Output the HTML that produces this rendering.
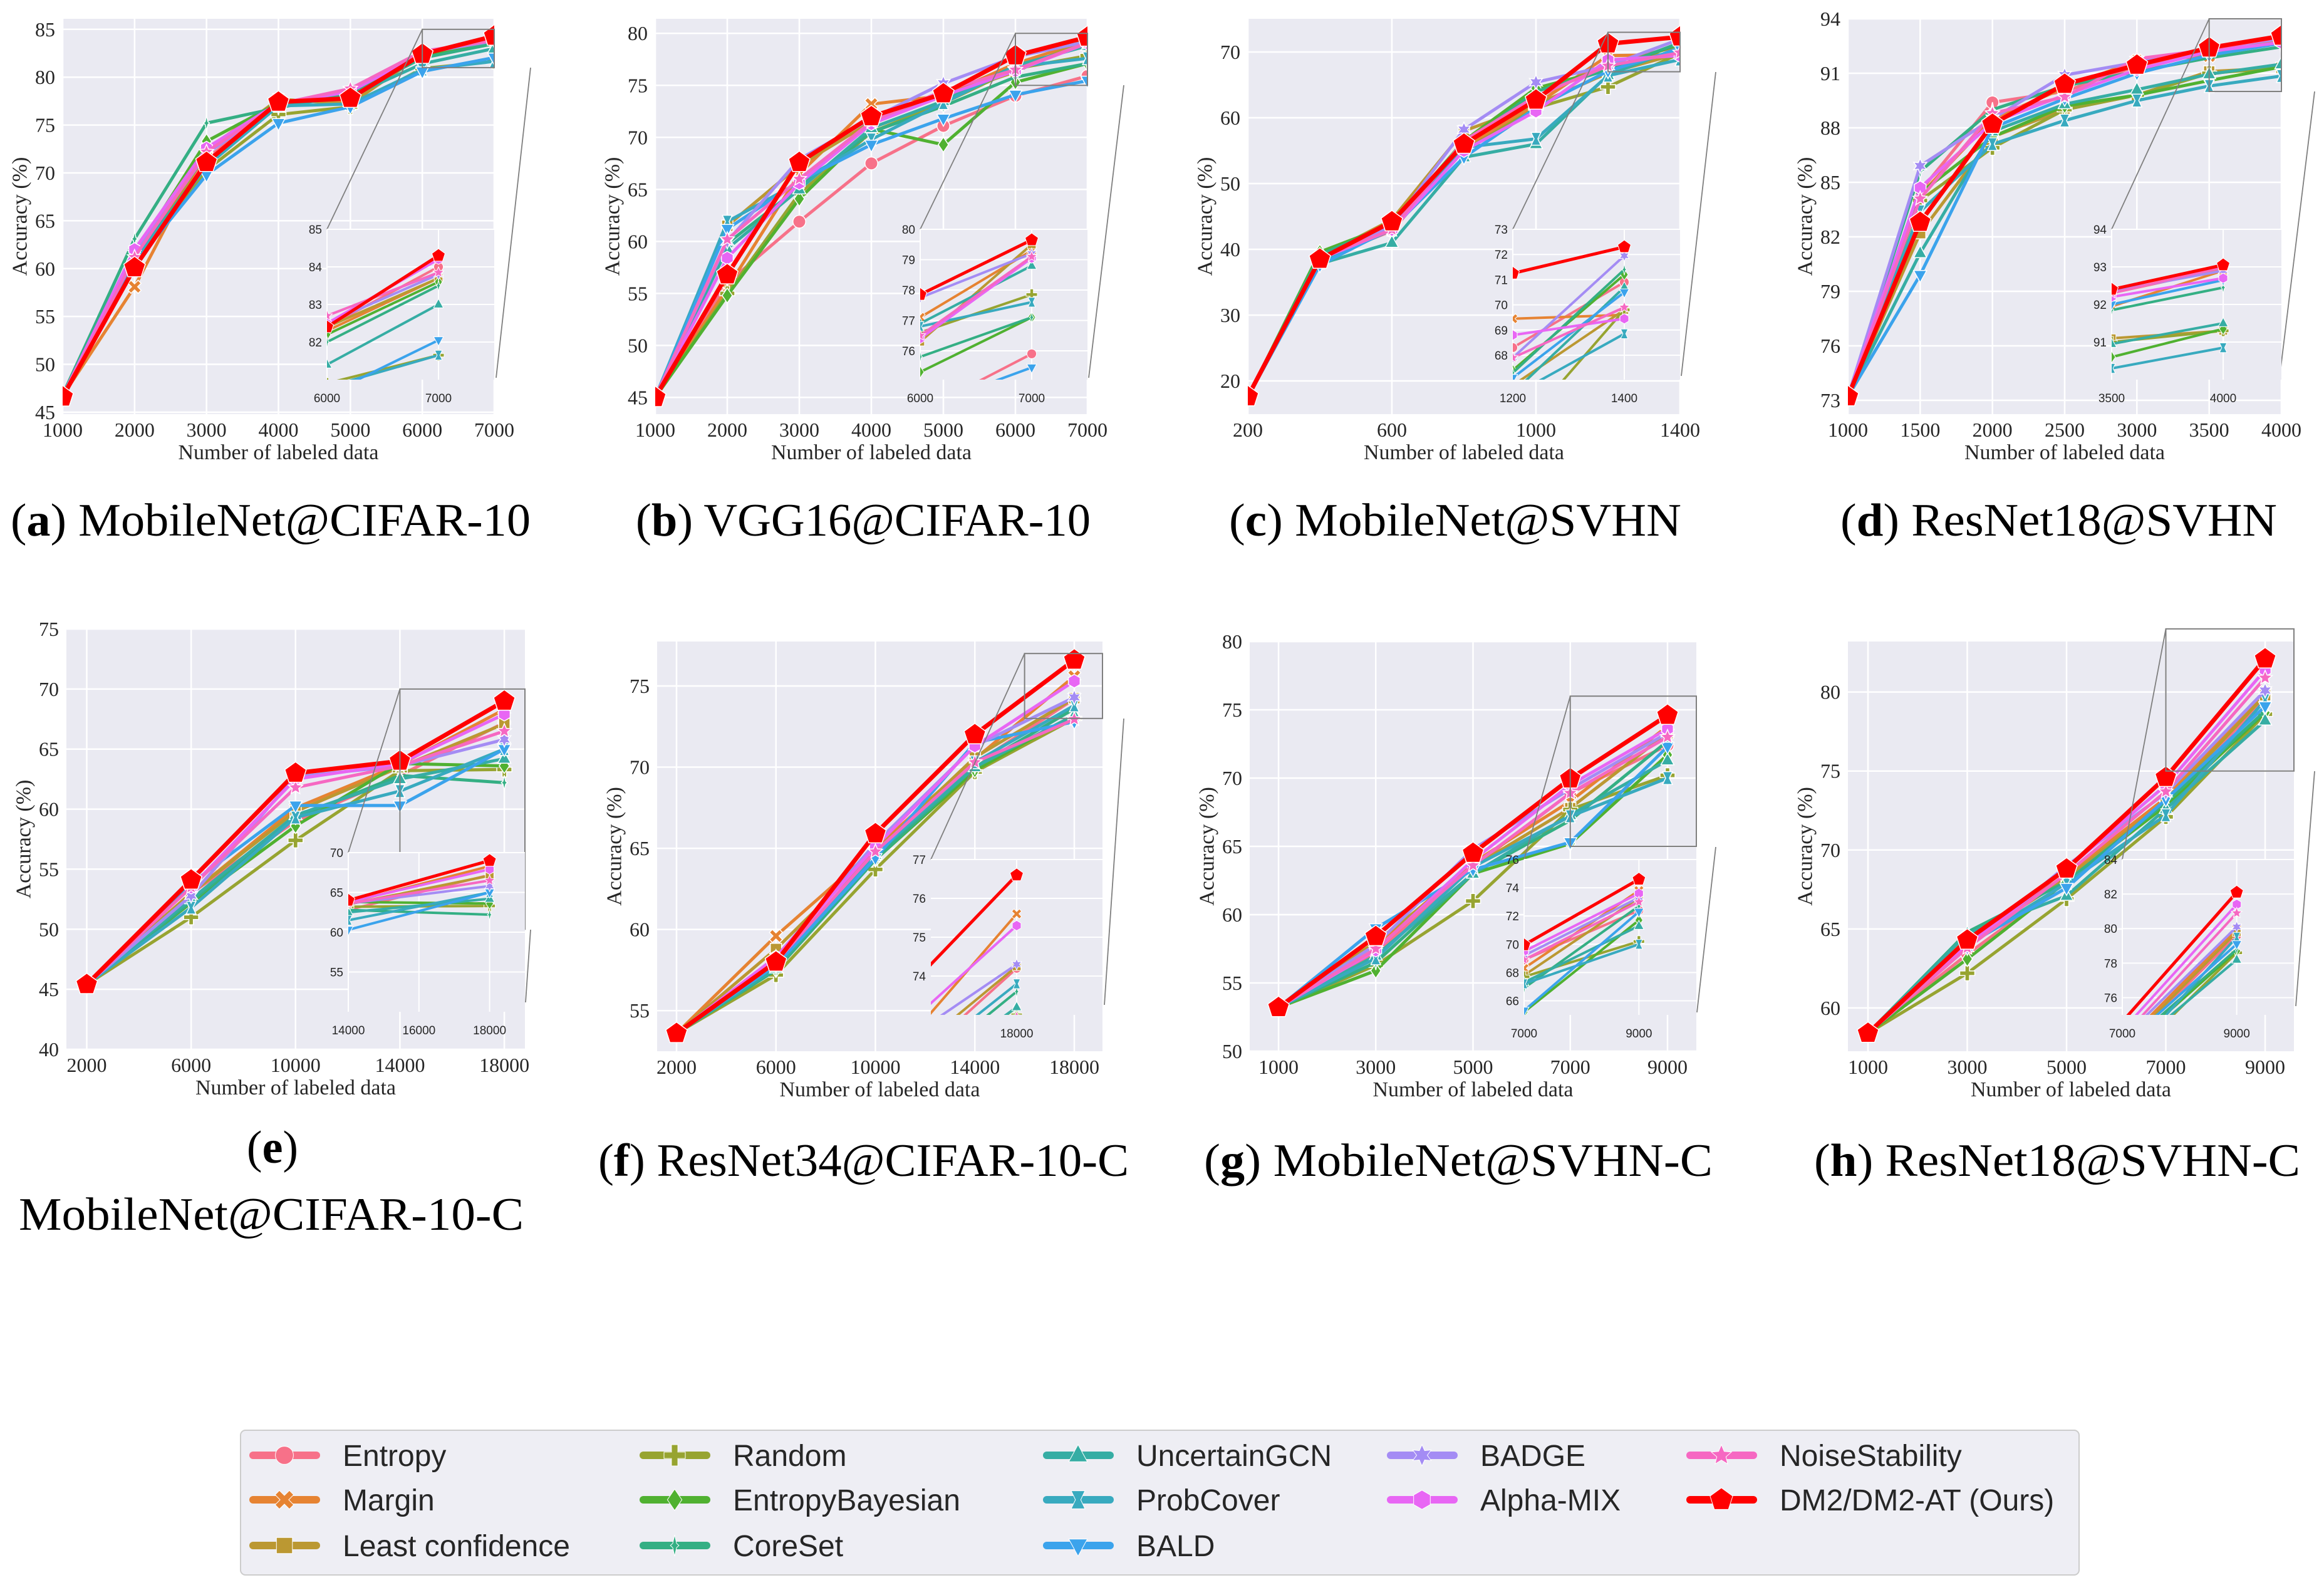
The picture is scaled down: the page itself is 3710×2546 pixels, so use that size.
<!DOCTYPE html>
<html><head><meta charset="utf-8"><title>Accuracy vs labeled data</title>
<style>
html,body{margin:0;padding:0;background:#fff;}
svg{display:block;}
.tk{font-family:"Liberation Serif",serif;font-size:32px;fill:#262626;}
.ttl{font-family:"Liberation Serif",serif;font-size:34px;fill:#262626;}
.itk{font-family:"Liberation Sans",sans-serif;font-size:19px;fill:#262626;}
.cap{font-family:"Liberation Serif",serif;font-size:74px;fill:#000;}
.leg{font-family:"Liberation Sans",sans-serif;font-size:48px;fill:#262626;}
</style></head>
<body>
<svg id="fig" xmlns="http://www.w3.org/2000/svg" width="3710" height="2546" viewBox="0 0 3710 2546">
<rect x="0" y="0" width="3710" height="2546" fill="#ffffff"/>
<text class="cap" x="17" y="855" textLength="830" lengthAdjust="spacingAndGlyphs">(<tspan font-weight="bold">a</tspan>) MobileNet@CIFAR-10</text>
<text class="cap" x="1015" y="855" textLength="726" lengthAdjust="spacingAndGlyphs">(<tspan font-weight="bold">b</tspan>) VGG16@CIFAR-10</text>
<text class="cap" x="1962" y="855" textLength="722" lengthAdjust="spacingAndGlyphs">(<tspan font-weight="bold">c</tspan>) MobileNet@SVHN</text>
<text class="cap" x="2938" y="855" textLength="697" lengthAdjust="spacingAndGlyphs">(<tspan font-weight="bold">d</tspan>) ResNet18@SVHN</text>
<text class="cap" x="435" y="1856" text-anchor="middle">(<tspan font-weight="bold">e</tspan>)</text>
<text class="cap" x="30" y="1963" textLength="806" lengthAdjust="spacingAndGlyphs">MobileNet@CIFAR-10-C</text>
<text class="cap" x="955" y="1877" textLength="847" lengthAdjust="spacingAndGlyphs">(<tspan font-weight="bold">f</tspan>) ResNet34@CIFAR-10-C</text>
<text class="cap" x="1922" y="1877" textLength="812" lengthAdjust="spacingAndGlyphs">(<tspan font-weight="bold">g</tspan>) MobileNet@SVHN-C</text>
<text class="cap" x="2896" y="1877" textLength="776" lengthAdjust="spacingAndGlyphs">(<tspan font-weight="bold">h</tspan>) ResNet18@SVHN-C</text>
<rect x="384" y="2283" width="2935" height="231" rx="8" fill="#EEEEF4" stroke="#CCCCCC" stroke-width="2"/>
</svg>
<script>
// ---- data ----
const seriesNames=["Entropy","Margin","Least confidence","Random","EntropyBayesian","CoreSet","UncertainGCN","ProbCover","BALD","BADGE","Alpha-MIX","NoiseStability","DM2/DM2-AT (Ours)"];
const seriesColors=["#f77189","#e68332","#bb9832","#97a431","#50b131","#34af84","#36ada4","#38aabf","#3ba3ec","#a48cf4","#e866f4","#f668c2","#ff0000"];
const seriesMarkers=["circle","x","square","plus","diamond","thin","triUp","hourglass","triDown","star6","hex","star5","pentagon"];

const xsA=[1000,2000,3000,4000,5000,6000,7000];
const valsA=[
[46.7,46.7,46.7,46.7,46.7,46.8,46.7,46.7,46.7,46.7,46.7,46.7,46.6],
[61.0,58.1,60.5,60.8,61.5,63.1,61.0,60.8,60.5,61.5,62.0,61.2,60.1],
[71.5,72.5,72.0,70.3,73.3,75.2,71.0,70.7,69.8,72.0,72.6,72.2,71.1],
[77.2,77.6,77.7,76.1,77.3,76.8,77.0,77.0,75.2,77.2,77.3,77.2,77.4],
[78.2,77.4,77.2,76.9,78.0,78.2,78.0,77.2,76.9,78.5,78.5,78.8,77.8],
[82.4,82.3,82.4,80.9,82.2,82.0,81.4,80.8,80.6,82.5,82.5,82.7,82.4],
[84.0,83.7,83.7,81.65,83.6,83.5,83.0,81.65,82.05,83.8,84.2,83.85,84.3]];
const xsB=[1000,2000,3000,4000,5000,6000,7000];
const valsB=[
[45.0,45.0,45.0,45.0,45.0,45.0,45.0,45.0,45.0,45.0,45.0,45.0,45.0],
[56.0,55.5,61.5,55.0,54.8,59.8,59.3,61.9,61.2,60.0,58.4,60.2,56.8],
[61.9,66.5,67.3,64.6,64.1,65.2,65.0,65.7,65.8,67.9,65.6,66.0,67.6],
[67.5,73.2,71.5,70.5,70.8,70.5,70.9,69.8,69.3,71.8,71.3,71.5,72.0],
[71.1,74.0,74.0,73.3,69.3,73.0,73.5,73.3,71.8,75.2,74.0,74.5,74.2],
[74.0,77.1,76.3,76.6,75.3,75.8,76.9,76.8,74.1,77.75,76.4,76.5,77.85],
[75.9,79.3,79.5,77.85,77.1,77.1,78.8,77.6,75.45,79.2,79.05,79.1,79.65]];
const xsC=[200,400,600,800,1000,1200,1400];
const valsC=[
[17.5,17.5,17.5,17.5,17.5,17.5,17.5,17.5,17.5,17.5,17.5,17.5,17.6],
[38.5,38.6,38.8,38.5,39.6,39.2,37.8,38.0,37.6,38.7,38.5,38.7,38.5],
[42.8,43.5,44.5,43.5,43.8,43.8,41.0,43.0,43.2,43.6,43.0,43.0,44.2],
[55.5,55.5,58.0,55.0,56.5,56.0,54.0,55.5,54.0,58.2,55.0,56.5,56.0],
[63.0,62.0,62.0,61.5,64.5,64.0,56.0,56.8,61.5,65.4,61.0,63.3,62.7],
[68.3,69.45,66.8,64.7,67.4,67.3,66.5,66.4,67.1,67.9,68.8,67.9,71.25],
[70.9,69.6,69.8,69.8,71.2,71.4,70.7,68.85,70.5,71.95,69.45,69.9,72.3]];
const xsD=[1000,1500,2000,2500,3000,3500,4000];
const valsD=[
[73.2,73.2,73.2,73.2,73.2,73.2,73.2,73.2,73.2,73.2,73.2,73.2,73.2],
[84.5,84.3,82.2,84.0,84.4,85.6,81.1,83.4,79.9,85.9,84.7,84.1,82.8],
[89.4,88.5,87.5,86.9,87.5,89.0,87.8,87.1,88.0,88.5,88.3,88.8,88.2],
[90.0,90.2,89.0,89.0,89.2,90.3,89.3,88.4,89.6,90.9,89.8,89.7,90.4],
[91.4,91.7,89.8,89.8,89.8,91.1,90.1,89.5,91.0,91.6,91.2,91.8,91.45],
[92.3,91.95,91.1,91.0,90.6,91.85,90.95,90.3,92.0,92.35,92.2,92.3,92.4],
[92.95,92.9,91.3,91.3,91.35,92.45,91.5,90.85,92.65,92.9,92.7,93.0,93.05]];
const xsE=[2000,6000,10000,14000,18000];
const valsE=[
[45.4,45.4,45.4,45.4,45.4,45.4,45.4,45.4,45.4,45.4,45.4,45.4,45.4],
[53.0,53.0,53.0,51.0,52.2,52.3,52.5,51.8,53.8,52.8,53.5,53.5,54.1],
[59.0,60.1,59.8,57.4,58.6,59.3,59.5,59.3,60.3,62.7,62.5,61.8,63.0],
[62.8,63.7,63.5,63.2,63.8,62.8,62.5,61.5,60.3,63.6,63.8,63.6,64.0],
[67.2,68.3,67.1,63.3,63.6,62.2,64.2,65.0,65.0,65.8,67.9,66.5,69.0]];
const xsF=[2000,6000,10000,14000,18000];
const valsF=[
[53.6,53.6,53.6,53.6,53.6,53.6,53.6,53.6,53.6,53.6,53.6,53.6,53.6],
[58.0,59.6,58.8,57.2,57.5,57.5,57.6,57.8,57.8,58.3,58.3,58.0,58.0],
[64.5,65.0,64.8,63.7,64.3,64.3,64.6,64.6,64.4,65.3,65.1,64.8,65.9],
[70.2,70.5,70.6,69.7,69.8,70.0,70.0,70.3,71.5,71.3,71.3,70.3,72.0],
[74.2,75.6,74.25,73.0,73.2,73.6,73.2,73.8,72.8,74.3,75.3,72.95,76.6]];
const xsG=[1000,3000,5000,7000,9000];
const valsG=[
[53.2,53.2,53.2,53.2,53.2,53.2,53.2,53.2,53.2,53.2,53.2,53.2,53.2],
[57.2,57.8,58.0,56.3,55.9,56.5,57.0,56.8,59.0,57.8,57.4,57.5,58.4],
[63.5,63.8,63.5,61.0,63.0,63.0,63.0,63.5,63.3,64.8,64.0,63.6,64.5],
[68.9,68.3,67.8,67.7,65.2,66.9,67.3,67.2,65.3,69.2,69.5,68.9,69.95],
[72.4,73.8,73.3,70.2,71.7,72.7,71.3,70.0,72.3,73.3,73.6,73.0,74.6]];
const xsH=[1000,3000,5000,7000,9000];
const valsH=[
[58.4,58.4,58.4,58.4,58.4,58.4,58.4,58.4,58.4,58.4,58.4,58.4,58.4],
[63.4,64.5,64.2,62.2,63.1,64.8,64.7,64.0,64.0,63.8,64.0,63.8,64.3],
[68.0,68.4,68.2,66.9,68.0,68.0,67.1,67.9,67.6,69.0,68.8,68.5,68.8],
[73.0,73.3,73.1,72.1,72.8,73.0,72.6,72.2,73.2,73.6,74.1,73.7,74.6],
[79.6,80.0,79.8,78.6,78.7,78.8,78.2,79.5,79.1,80.1,81.4,80.9,82.1]];

const xticksA=[1000,2000,3000,4000,5000,6000,7000], yticksA=[45,50,55,60,65,70,75,80,85];
const xticksB=[1000,2000,3000,4000,5000,6000,7000], yticksB=[45,50,55,60,65,70,75,80];
const xticksC=[200,600,1000,1400], yticksC=[20,30,40,50,60,70];
const xticksD=[1000,1500,2000,2500,3000,3500,4000], yticksD=[73,76,79,82,85,88,91,94];
const xticksE=[2000,6000,10000,14000,18000], yticksE=[40,45,50,55,60,65,70,75];
const xticksF=[2000,6000,10000,14000,18000], yticksF=[55,60,65,70,75];
const xticksG=[1000,3000,5000,7000,9000], yticksG=[50,55,60,65,70,75,80];
const xticksH=[1000,3000,5000,7000,9000], yticksH=[60,65,70,75,80];

// ---- drawing ----
const NS='http://www.w3.org/2000/svg';
const svg=document.getElementById('fig');
function mk(tag,attrs,parent){const e=document.createElementNS(NS,tag);for(const k in attrs)e.setAttribute(k,attrs[k]);(parent||svg).appendChild(e);return e;}
function shapePts(t,r){
  const P=[];
  if(t==='plus'||t==='x'){const w=0.3*r;let p=[[-w,-r],[w,-r],[w,-w],[r,-w],[r,w],[w,w],[w,r],[-w,r],[-w,w],[-r,w],[-r,-w],[-w,-w]];
    if(t==='x'){const c=Math.SQRT1_2;p=p.map(q=>[(q[0]-q[1])*c*0.95,(q[0]+q[1])*c*0.95]);}return p;}
  if(t==='square'){const a=0.75*r;return [[-a,-a],[a,-a],[a,a],[-a,a]];}
  if(t==='diamond')return [[0,-r],[0.68*r,0],[0,r],[-0.68*r,0]];
  if(t==='thin')return [[0,-r],[0.18*r,-0.2*r],[0.4*r,0],[0.18*r,0.2*r],[0,r],[-0.18*r,0.2*r],[-0.4*r,0],[-0.18*r,-0.2*r]];
  if(t==='triUp')return [[0,-r],[0.87*r,0.6*r],[-0.87*r,0.6*r]];
  if(t==='triDown')return [[0,r],[0.87*r,-0.6*r],[-0.87*r,-0.6*r]];
  if(t==='hourglass')return [[-0.65*r,-0.85*r],[0.65*r,-0.85*r],[0.25*r,0],[0.65*r,0.85*r],[-0.65*r,0.85*r],[-0.25*r,0]];
  if(t==='star6'){for(let i=0;i<12;i++){const a=-Math.PI/2+i*Math.PI/6,rr=i%2?0.5*r:r;P.push([rr*Math.cos(a),rr*Math.sin(a)]);}return P;}
  if(t==='hex'){for(let i=0;i<6;i++){const a=-Math.PI/2+i*Math.PI/3;P.push([0.9*r*Math.cos(a),0.9*r*Math.sin(a)]);}return P;}
  if(t==='star5'){for(let i=0;i<10;i++){const a=-Math.PI/2+i*Math.PI/5,rr=i%2?0.45*r:r;P.push([rr*Math.cos(a),rr*Math.sin(a)]);}return P;}
  if(t==='pentagon'){for(let i=0;i<5;i++){const a=-Math.PI/2+i*2*Math.PI/5;P.push([r*Math.cos(a),r*Math.sin(a)]);}return P;}
  return P;
}
function drawMarker(parent,t,cx,cy,r,color,sw){
  let el;
  if(t==='circle'){el=mk('circle',{cx:cx.toFixed(1),cy:cy.toFixed(1),r:(0.85*r).toFixed(1),fill:color,stroke:'#fff','stroke-width':sw},parent);}
  else{el=mk('polygon',{points:shapePts(t,r).map(p=>(cx+p[0]).toFixed(1)+','+(cy+p[1]).toFixed(1)).join(' '),fill:color,stroke:'#fff','stroke-width':sw},parent);}
  return el;
}
let clipId=0;
function drawPanel(id,P){
  const g=mk('g',{});
  
  
  const sx=v=>P.L+(v-P.xd[0])/(P.xd[1]-P.xd[0])*(P.R-P.L);
  const sy=v=>P.B-(v-P.yd[0])/(P.yd[1]-P.yd[0])*(P.B-P.T);
  const bg=mk('rect',{x:P.L,y:P.T,width:P.R-P.L,height:P.B-P.T,fill:'#EAEAF2'},g);
  
  
  P.xticks.forEach(v=>{const l=mk('line',{x1:sx(v),x2:sx(v),y1:P.T,y2:P.B,stroke:'#fff','stroke-width':2.5},g);
    
    
    const t=mk('text',{x:sx(v),y:P.B+36,'text-anchor':'middle',class:'tk'},g);t.textContent=v;
    
    });
  P.yticks.forEach(v=>{const l=mk('line',{x1:P.L,x2:P.R,y1:sy(v),y2:sy(v),stroke:'#fff','stroke-width':2.5},g);
    
    
    const t=mk('text',{x:P.L-12,y:sy(v)+11,'text-anchor':'end',class:'tk'},g);t.textContent=v;
    
    });
  const xt=mk('text',{x:(P.L+P.R)/2,y:P.B+72,'text-anchor':'middle',class:'ttl'},g);xt.textContent='Number of labeled data';
  
  
  const yc=(P.T+P.B)/2, yx=P.L-68;
  const yt=mk('text',{x:yx,y:yc,'text-anchor':'middle','dominant-baseline':'central',class:'ttl',transform:`rotate(-90 ${yx} ${yc})`},g);yt.textContent='Accuracy (%)';
  
  
  const cid='clip'+(clipId++);
  const cp=mk('clipPath',{id:cid},g);mk('rect',{x:P.L,y:P.T,width:P.R-P.L,height:P.B-P.T},cp);
  const sg=mk('g',{'clip-path':`url(#${cid})`},g);
  for(let s=0;s<seriesNames.length;s++){
    const pts=P.xs.map((x,i)=>sx(x).toFixed(1)+','+sy(P.rows[i][s]).toFixed(1)).join(' ');
    const pl=mk('polyline',{points:pts,fill:'none',stroke:seriesColors[s],'stroke-width':s===12?7:5,'stroke-linejoin':'round','stroke-linecap':'round'},sg);
    
    
    P.xs.forEach((x,i)=>{const m=drawMarker(sg,seriesMarkers[s],sx(x),sy(P.rows[i][s]),s===12?18:12,seriesColors[s],1.5);
      
      });
  }
  const zx=sx(P.zoom[0]), zt=sy(P.zoom[2]), zb=sy(P.zoom[1]);
  const zr=mk('rect',{x:zx,y:zt,width:P.R-zx,height:zb-zt,fill:'none',stroke:'#7f7f7f','stroke-width':2},g);
  
  
  const c1=mk('line',{x1:zx,y1:zt,x2:P.I.L,y2:P.I.T,stroke:'#7f7f7f','stroke-width':1.8},g);
  
  
  const c2=mk('line',{x1:P.conn2[0],y1:P.conn2[1],x2:P.conn2[2],y2:P.conn2[3],stroke:'#7f7f7f','stroke-width':1.8},g);
  
  
  const I=P.I;
  const ig=mk('g',{},g);
  
  
  const ix=v=>I.L+(v-I.xd[0])/(I.xd[1]-I.xd[0])*(I.R-I.L);
  const iy=v=>I.B-(v-I.yd[0])/(I.yd[1]-I.yd[0])*(I.B-I.T);
  mk('rect',{x:I.L,y:I.T,width:I.R-I.L,height:I.B-I.T,fill:'#EAEAF2'},ig);
  I.xticks.forEach(v=>{mk('line',{x1:ix(v),x2:ix(v),y1:I.T,y2:I.B,stroke:'#fff','stroke-width':2},ig);
    const t=mk('text',{x:ix(v),y:I.B+36,'text-anchor':'middle',class:'itk'},ig);t.textContent=v;
    
    });
  I.yticks.forEach(v=>{mk('line',{x1:I.L,x2:I.R,y1:iy(v),y2:iy(v),stroke:'#fff','stroke-width':2},ig);
    const t=mk('text',{x:I.L-8,y:iy(v)+7,'text-anchor':'end',class:'itk'},ig);t.textContent=v;
    
    });
  const icid='clip'+(clipId++);
  const icp=mk('clipPath',{id:icid},ig);mk('rect',{x:I.L,y:I.T,width:I.R-I.L,height:I.B-I.T},icp);
  const isg=mk('g',{'clip-path':`url(#${icid})`},ig);
  const n=P.xs.length;
  for(let s=0;s<seriesNames.length;s++){
    const a=n-2,b=n-1;
    const ln=mk('line',{x1:ix(P.xs[a]),y1:iy(P.rows[a][s]),x2:ix(P.xs[b]),y2:iy(P.rows[b][s]),stroke:seriesColors[s],'stroke-width':s===12?5:4,'stroke-linecap':'round'},isg);
    
    
    [a,b].forEach(i=>{const m=drawMarker(isg,seriesMarkers[s],ix(P.xs[i]),iy(P.rows[i][s]),s===12?11:9,seriesColors[s],1);
      
      });
  }
}

drawPanel('a',{L:100,R:789,T:30,B:661,xd:[1000,7000],yd:[44.8,86.1],xs:xsA,rows:valsA,xticks:xticksA,yticks:yticksA,
  zoom:[6000,81,85],conn2:[847,108,792,603],
  I:{L:522,R:789,T:366,B:606,xd:[6000,7500],yd:[81,85],xticks:[6000,7000],yticks:[82,83,84,85]}});
drawPanel('b',{L:1046,R:1736,T:30,B:661,xd:[1000,7000],yd:[43.4,81.4],xs:xsB,rows:valsB,xticks:xticksB,yticks:yticksB,
  zoom:[6000,75,80],conn2:[1794,136,1738,603],
  I:{L:1469,R:1736,T:366,B:606,xd:[6000,7500],yd:[75.05,80],xticks:[6000,7000],yticks:[76,77,78,79,80]}});
drawPanel('c',{L:1992,R:2682,T:30,B:661,xd:[200,1400],yd:[14.95,75.05],xs:xsC,rows:valsC,xticks:xticksC,yticks:yticksC,
  zoom:[1200,67,73],conn2:[2739,115,2684,600],
  I:{L:2415,R:2682,T:366,B:606,xd:[1200,1500],yd:[67.03,73],xticks:[1200,1400],yticks:[68,69,70,71,72,73]}});
drawPanel('d',{L:2950,R:3642,T:30,B:661,xd:[1000,4000],yd:[72.24,94],xs:xsD,rows:valsD,xticks:xticksD,yticks:yticksD,
  zoom:[3500,90,94],conn2:[3695,146,3639,603],
  I:{L:3371,R:3642,T:366,B:606,xd:[3500,4261],yd:[90,94],xticks:[3500,4000],yticks:[91,92,93,94]}});
drawPanel('e',{L:106,R:838,T:1004,B:1675,xd:[1220,18790],yd:[40,75],xs:xsE,rows:valsE,xticks:xticksE,yticks:yticksE,
  zoom:[14000,50,70],conn2:[847,1484,839,1600],
  I:{L:556,R:838,T:1361,B:1615,xd:[14000,19000],yd:[50,70],xticks:[14000,16000,18000],yticks:[55,60,65,70]}});
drawPanel('f',{L:1049,R:1760,T:1024,B:1678,xd:[1219,19134],yd:[52.5,77.74],xs:xsF,rows:valsF,xticks:xticksF,yticks:yticksF,
  zoom:[16000,73,77],conn2:[1794,1147,1763,1604],
  I:{L:1486,R:1760,T:1372,B:1620,xd:[16000,20000],yd:[73,77],xticks:[18000],yticks:[74,75,76,77]}});
drawPanel('g',{L:1995,R:2708,T:1024,B:1678,xd:[407,9593],yd:[50,80],xs:xsG,rows:valsG,xticks:xticksG,yticks:yticksG,
  zoom:[7000,65,76],conn2:[2739,1352,2709,1616],
  I:{L:2433,R:2708,T:1372,B:1620,xd:[7000,10000],yd:[65,76],xticks:[7000,9000],yticks:[66,68,70,72,74,76]}});
drawPanel('h',{L:2950,R:3662,T:1024,B:1678,xd:[596,9580],yd:[57.26,83.2],xs:xsH,rows:valsH,xticks:xticksH,yticks:yticksH,
  zoom:[7000,75,84],conn2:[3695,1231,3665,1606],
  I:{L:3388,R:3662,T:1372,B:1620,xd:[7000,10000],yd:[75,84],xticks:[7000,9000],yticks:[76,78,80,82,84]}});

// legend
const legCols=[398,1021,1665,2214,2692];
const legRows=[2323,2394,2467];
const legSlots=[[0,0],[0,1],[0,2],[1,0],[1,1],[1,2],[2,0],[2,1],[2,2],[3,0],[3,1],[4,0],[4,1]];
const lg=mk('g',{});


seriesNames.forEach((nm,s)=>{
  const x=legCols[legSlots[s][0]], y=legRows[legSlots[s][1]];
  const eg=mk('g',{},lg);
  
  
  mk('line',{x1:x+6,y1:y,x2:x+107,y2:y,stroke:seriesColors[s],'stroke-width':12,'stroke-linecap':'round'},eg);
  drawMarker(eg,seriesMarkers[s],x+56,y,s===12?19:17,seriesColors[s],1);
  const t=mk('text',{x:x+149,y:y+17,class:'leg'},eg);t.textContent=nm;
  
  
});
</script>
</body></html>
